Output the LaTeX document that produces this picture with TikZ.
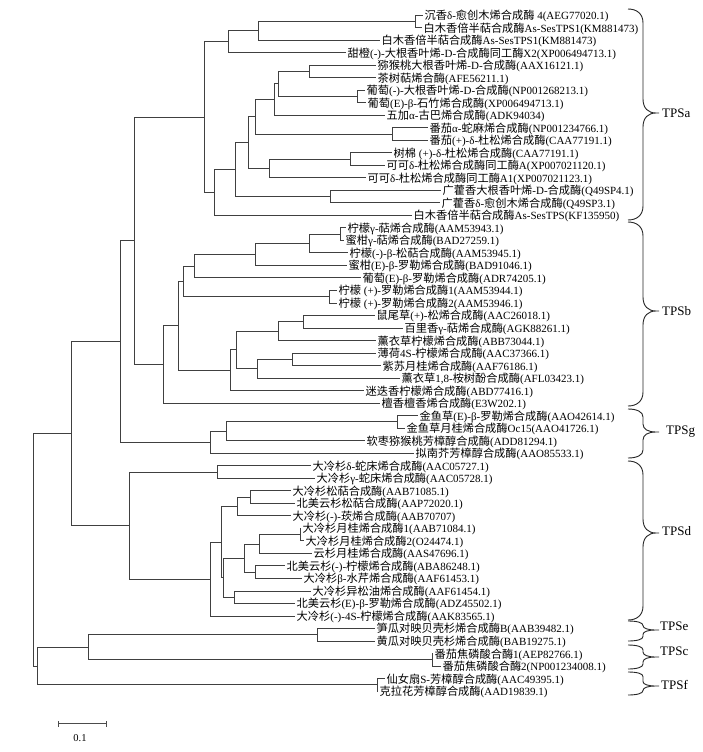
\documentclass[tikz,border=0pt]{standalone}
\usepackage{fontspec}
\setmainfont{Liberation Serif}
\newfontfamily\cjk{Noto Sans CJK SC}[Scale=1.02]
\usetikzlibrary{calc}
% automatic font switch for CJK ideographs
\XeTeXinterchartokenstate=1
\count255="4E00
\loop
  \XeTeXcharclass\count255=7
  \advance\count255 by 1
\ifnum\count255<"A000 \repeat
\XeTeXinterchartoks 0 7 = {\cjk}
\XeTeXinterchartoks 4095 7 = {\cjk}
\XeTeXinterchartoks 7 0 = {\rmfamily}
\XeTeXinterchartoks 7 4095 = {\rmfamily}

\newcommand\leaf[4]{\coordinate (l#1) at (#2,#3); \node[lab] (t#1) at (l#1) {#4};}
\newcommand\inode[4]{%
  \path let \p1=($(#3)!0.5!(#4)$) in (#2pt,\y1) coordinate (#1);
  \draw[tree] (#1) |- (#3);
  \draw[tree] (#1) |- (#4);}
\newcommand\tbrace[4]{% top, mid, bottom, curl
  \draw[brc] (628,#1) .. controls (637,#1) and (643,{#1+0.35*#4}) .. (643,{#1+#4})
    -- (643,{#2-#4}) .. controls (643,{#2-0.35*#4}) and (648,#2) .. (656,#2)
    -- (659,#2) -- (656,#2)
    .. controls (648,#2) and (643,{#2+0.35*#4}) .. (643,{#2+#4})
    -- (643,{#3-#4}) .. controls (643,{#3-0.35*#4}) and (637,#3) .. (628,#3);}

\begin{document}
\begin{tikzpicture}[x=1pt,y=-1pt,
  tree/.style={line width=0.85pt, draw=black!75},
  lab/.style={anchor=west, inner xsep=1.5pt, inner ysep=0pt, text height=9.5pt, text depth=0.5pt, font=\fontsize{11}{13}\selectfont},
  clade/.style={anchor=west, inner sep=0pt, font=\fontsize{13}{15}\selectfont},
  brc/.style={line width=0.9pt, draw=black!85},
  sbar/.style={line width=0.6pt, draw=black!70}]
\path[fill=white] (0,0) rectangle (703,752);
\useasboundingbox (0,0) rectangle (703,752);

% leaves
\leaf{1}{423}{15.00}{沉香δ-愈创木烯合成酶 4(AEG77020.1)}
\leaf{2}{422}{27.52}{白木香倍半萜合成酶As-SesTPS1(KM881473)}
\leaf{3}{380}{40.04}{白木香倍半萜合成酶As-SesTPS1(KM881473)}
\leaf{4}{346}{52.56}{甜橙(-)-大根香叶烯-D-合成酶同工酶X2(XP006494713.1)}
\leaf{5}{376}{65.08}{猕猴桃大根香叶烯-D-合成酶(AAX16121.1)}
\leaf{6}{376}{77.60}{茶树萜烯合酶(AFE56211.1)}
\leaf{7}{365}{90.12}{葡萄(-)-大根香叶烯-D-合成酶(NP001268213.1)}
\leaf{8}{366}{102.64}{葡萄(E)-β-石竹烯合成酶(XP006494713.1)}
\leaf{9}{385}{115.16}{五加α-古巴烯合成酶(ADK94034)}
\leaf{10}{428}{127.68}{番茄α-蛇麻烯合成酶(NP001234766.1)}
\leaf{11}{428}{140.20}{番茄(+)-δ-杜松烯合成酶(CAA77191.1)}
\leaf{12}{392}{152.72}{树棉 (+)-δ-杜松烯合成酶(CAA77191.1)}
\leaf{13}{385}{165.24}{可可δ-杜松烯合成酶同工酶A(XP007021120.1)}
\leaf{14}{366}{177.76}{可可δ-杜松烯合成酶同工酶A1(XP007021123.1)}
\leaf{15}{441}{190.28}{广藿香大根香叶烯-D-合成酶(Q49SP4.1)}
\leaf{16}{440}{202.80}{广藿香δ-愈创木烯合成酶(Q49SP3.1)}
\leaf{17}{412}{215.32}{白木香倍半萜合成酶As-SesTPS(KF135950)}
\leaf{18}{346}{227.84}{柠檬γ-萜烯合成酶(AAM53943.1)}
\leaf{19}{344}{240.36}{蜜柑γ-萜烯合成酶(BAD27259.1)}
\leaf{20}{348}{252.88}{柠檬(-)-β-松萜合成酶(AAM53945.1)}
\leaf{21}{347}{265.40}{蜜柑(E)-β-罗勒烯合成酶(BAD91046.1)}
\leaf{22}{361}{277.92}{葡萄(E)-β-罗勒烯合成酶(ADR74205.1)}
\leaf{23}{337}{290.44}{柠檬 (+)-罗勒烯合成酶1(AAM53944.1)}
\leaf{24}{337}{302.96}{柠檬 (+)-罗勒烯合成酶2(AAM53946.1)}
\leaf{25}{375}{315.48}{鼠尾草(+)-松烯合成酶(AAC26018.1)}
\leaf{26}{403}{328.00}{百里香γ-萜烯合成酶(AGK88261.1)}
\leaf{27}{376}{340.52}{薰衣草柠檬烯合成酶(ABB73044.1)}
\leaf{28}{376}{353.04}{薄荷4S-柠檬烯合成酶(AAC37366.1)}
\leaf{29}{381}{365.56}{紫苏月桂烯合成酶(AAF76186.1)}
\leaf{30}{400}{378.08}{薰衣草1,8-桉树酚合成酶(AFL03423.1)}
\leaf{31}{364}{390.60}{迷迭香柠檬烯合成酶(ABD77416.1)}
\leaf{32}{380}{403.12}{檀香檀香烯合成酶(E3W202.1)}
\leaf{33}{418}{415.64}{金鱼草(E)-β-罗勒烯合成酶(AAO42614.1)}
\leaf{34}{405}{428.16}{金鱼草月桂烯合成酶Oc15(AAO41726.1)}
\leaf{35}{365}{440.68}{软枣猕猴桃芳樟醇合成酶(ADD81294.1)}
\leaf{36}{414}{453.20}{拟南芥芳樟醇合成酶(AAO85533.1)}
\leaf{37}{311}{465.72}{大冷杉δ-蛇床烯合成酶(AAC05727.1)}
\leaf{38}{315}{478.24}{大冷杉γ-蛇床烯合成酶(AAC05728.1)}
\leaf{39}{291}{490.76}{大冷杉松萜合成酶(AAB71085.1)}
\leaf{40}{295}{503.28}{北美云杉松萜合成酶(AAP72020.1)}
\leaf{41}{291}{515.80}{大冷杉(-)-莰烯合成酶(AAB70707)}
\leaf{42}{301}{528.32}{大冷杉月桂烯合成酶1(AAB71084.1)}
\leaf{43}{304}{540.84}{大冷杉月桂烯合成酶2(O24474.1)}
\leaf{44}{312}{553.36}{云杉月桂烯合成酶(AAS47696.1)}
\leaf{45}{285}{565.88}{北美云杉(-)-柠檬烯合成酶(ABA86248.1)}
\leaf{46}{302}{578.40}{大冷杉β-水芹烯合成酶(AAF61453.1)}
\leaf{47}{311}{590.92}{大冷杉异松油烯合成酶(AAF61454.1)}
\leaf{48}{295}{603.44}{北美云杉(E)-β-罗勒烯合成酶(ADZ45502.1)}
\leaf{49}{295}{615.96}{大冷杉(-)-4S-柠檬烯合成酶(AAK83565.1)}
\leaf{50}{375}{628.48}{笋瓜对映贝壳杉烯合成酶B(AAB39482.1)}
\leaf{51}{375}{641.00}{黄瓜对映贝壳杉烯合成酶(BAB19275.1)}
\leaf{52}{433}{653.52}{番茄焦磷酸合酶1(AEP82766.1)}
\leaf{53}{441}{666.04}{番茄焦磷酸合酶2(NP001234008.1)}
\leaf{54}{385}{678.56}{仙女扇S-芳樟醇合成酶(AAC49395.1)}
\leaf{55}{378}{691.08}{克拉花芳樟醇合成酶(AAD19839.1)}

% TPSa
\inode{nA}{415}{l1}{l2}
\inode{nB}{258}{nA}{l3}
\inode{nC}{228}{nB}{l4}
\inode{nD}{309}{l5}{l6}
\inode{nE}{357}{l7}{l8}
\inode{nF}{278}{nD}{nE}
\inode{nG}{274}{nF}{l9}
\inode{nH}{392}{l10}{l11}
\inode{nI}{255}{nG}{nH}
\inode{nJ}{350}{l12}{l13}
\inode{nK}{269}{nJ}{l14}
\inode{nL}{248}{nI}{nK}
\inode{nM}{330}{l15}{l16}
\inode{nN}{235}{nL}{nM}
\inode{nO}{214}{nN}{l17}
\inode{nP}{204}{nC}{nO}
% TPSb
\inode{nQ}{340}{l18}{l19}
\inode{nR}{309}{nQ}{l20}
\inode{nS}{255}{nR}{l21}
\inode{nT}{194}{nS}{l22}
\inode{nU}{329}{l23}{l24}
\inode{nV}{183}{nT}{nU}
\inode{nW}{303}{l25}{l26}
\inode{nX}{278}{nW}{l27}
\inode{nY}{292}{l28}{l29}
\inode{nZ}{257}{nY}{l30}
\inode{nAA}{236}{nX}{nZ}
\inode{nAB}{230}{nAA}{l31}
\inode{nAC}{178}{nV}{nAB}
\inode{nAD}{163}{nAC}{l32}
\inode{nAE}{134}{nP}{nAD}
% TPSg
\inode{nAF}{397}{l33}{l34}
\inode{nAG}{226}{nAF}{l35}
\inode{nAH}{210}{nAG}{l36}
\inode{nAI}{120}{nAE}{nAH}
% TPSd
\inode{nAJ}{217}{l37}{l38}
\inode{nAK}{250}{l39}{l40}
\inode{nAL}{237}{nAK}{l41}
\inode{nAM}{300}{l42}{l43}
\inode{nAN}{259}{nAM}{l44}
\inode{nAO}{255}{l45}{l46}
\inode{nAP}{244}{nAN}{nAO}
\inode{nAQ}{234}{l47}{l48}
\inode{nAR}{223.5}{nAP}{nAQ}
\inode{nAS}{221.5}{nAL}{nAR}
\inode{nAT}{210}{nAS}{l49}
\inode{nAU}{129}{nAJ}{nAT}
\inode{nAV}{71}{nAI}{nAU}
% TPSe, TPSc, TPSf
\inode{nAW}{317}{l50}{l51}
\inode{nAX}{432}{l52}{l53}
\inode{nAY}{88}{nAW}{nAX}
\inode{nAZ}{377}{l54}{l55}
\inode{nBA}{37}{nAY}{nAZ}
\inode{root}{33}{nAV}{nBA}

% clade braces
\tbrace{9}{113}{220}{14}
\tbrace{222}{311}{406}{14}
\tbrace{409}{432}{458}{8}
\tbrace{461}{533}{620}{14}
\tbrace{621}{630}{641}{4.5}
\tbrace{645}{657}{669}{5}
\tbrace{672}{686}{695}{4.5}
\node[clade] (ca) at (662,113) {TPSa};
\node[clade] (cb) at (662,311) {TPSb};
\node[clade] (cg) at (666,432) {TPSg};
\node[clade] (cd) at (662,531) {TPSd};
\node[clade] (ce) at (660,626) {TPSe};
\node[clade] (cc) at (660,651) {TPSc};
\node[clade] (cf) at (661,685) {TPSf};

% scale bar
\coordinate (sb1) at (58,723);
\coordinate (sb2) at (106,723);
\draw[sbar] (sb1) -- (sb2);
\draw[sbar] ([yshift=2pt]sb1) -- ([yshift=-4pt]sb1);
\draw[sbar] ([yshift=2pt]sb2) -- ([yshift=-4pt]sb2);
\node[font=\fontsize{10.5}{12}\selectfont, inner sep=0pt] (sbl) at (80,738) {0.1};
\end{tikzpicture}
\end{document}
